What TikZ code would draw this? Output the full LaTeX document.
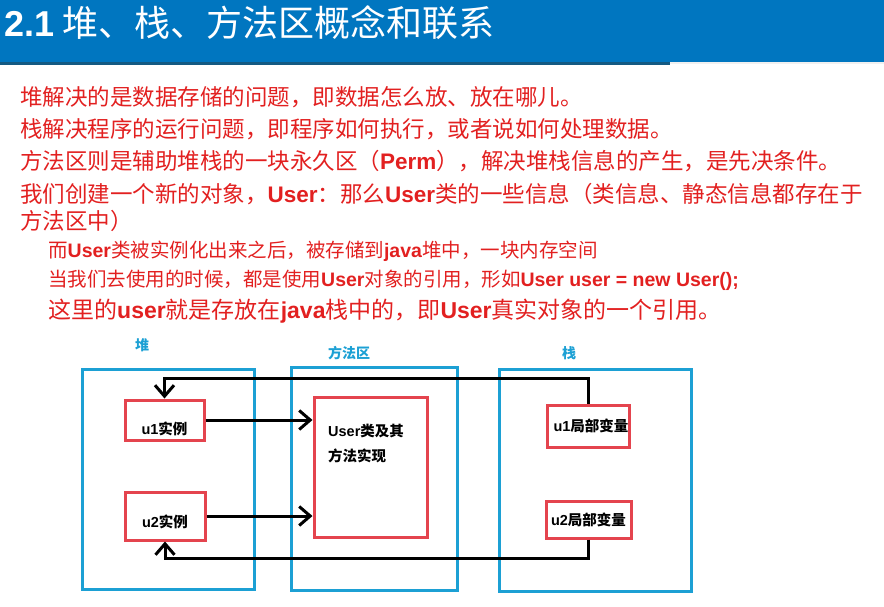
\documentclass[tikz,border=0pt]{standalone}
\usepackage{fontspec}
\usepackage{tikz}
\usetikzlibrary{arrows.meta}
\setmainfont{Liberation Sans}
\newfontfamily\cjk{Noto Sans CJK SC}
\newcommand{\en}[1]{{\rmfamily\bfseries #1}}
\definecolor{headblue}{RGB}{0,118,192}
\definecolor{headdark}{RGB}{20,90,130}
\definecolor{txtred}{RGB}{226,32,32}
\definecolor{boxblue}{RGB}{28,160,212}
\definecolor{boxred}{RGB}{228,68,78}

\begin{document}
\begin{tikzpicture}[x=1pt,y=-1pt,
  line/.style={anchor=west,inner sep=0pt,text=txtred,font=\cjk\fontsize{22.5}{26}\selectfont},
  small/.style={anchor=west,inner sep=0pt,text=txtred,font=\cjk\fontsize{19.5}{24}\selectfont},
  area/.style={draw=boxblue,line width=3pt,inner sep=0pt},
  arealabel/.style={text=boxblue,font=\cjk\bfseries\fontsize{14}{16}\selectfont},
  obj/.style={draw=boxred,line width=3pt,inner sep=0pt,font=\cjk\bfseries\fontsize{14.5}{17}\selectfont},
  arr/.style={line width=3pt,-{Straight Barb[length=11pt,width=19pt,line width=3pt]}}]
  \useasboundingbox (0,0) rectangle (884,607);
  % header
  \fill[headblue] (0,0) rectangle (884,62);
  \fill[headdark] (0,62) rectangle (670,65);
  \fill[gray!12] (670,62) rectangle (884,64);
  \node[anchor=west,inner sep=0pt,text=white,font=\cjk\fontsize{36}{40}\selectfont] (title) at (4,23) {\en{2.1} 堆、栈、方法区概念和联系};
  % text
  \node[line] (l1) at (20,97) {堆解决的是数据存储的问题，即数据怎么放、放在哪儿。};
  \node[line] (l2) at (20,129) {栈解决程序的运行问题，即程序如何执行，或者说如何处理数据。};
  \node[line] (l3) at (20,161) {方法区则是辅助堆栈的一块永久区（\en{Perm}），解决堆栈信息的产生，是先决条件。};
  \node[line] (l4) at (20,194) {我们创建一个新的对象，\en{User}：那么\en{User}类的一些信息（类信息、静态信息都存在于};
  \node[line] (l5) at (20,221) {方法区中）};
  \node[small] (l6) at (48,251) {而\en{User}类被实例化出来之后，被存储到\en{java}堆中，一块内存空间};
  \node[small] (l7) at (48,280) {当我们去使用的时候，都是使用\en{User}对象的引用，形如\en{User user = new User();}};
  \node[line,font=\cjk\fontsize{23}{27}\selectfont] (l8) at (48,311) {这里的\en{user}就是存放在\en{java}栈中的，即\en{User}真实对象的一个引用。};
  % areas
  \node[area,minimum width=172,minimum height=220] (heap) at (168,479) {};
  \node[area,minimum width=166,minimum height=223] (meth) at (374,478.5) {};
  \node[area,minimum width=192,minimum height=222] (stack) at (595,480) {};
  \node[arealabel] (heapl) at (142,345) {堆};
  \node[arealabel] (methl) at (349,353) {方法区};
  \node[arealabel] (stackl) at (569,353) {栈};
  % objects
  \node[obj,minimum width=79,minimum height=40] (i1) at (164.5,420) {\raisebox{-14pt}[0pt][0pt]{\en{u1}实例}};
  \node[obj,minimum width=80,minimum height=48] (i2) at (165,516) {\raisebox{-11pt}[0pt][0pt]{\en{u2}实例}};
  \node[obj,minimum width=113,minimum height=140] (cls) at (370.5,467) {};
  \node[anchor=north west,inner sep=0pt,align=left,font=\cjk\bfseries\fontsize{14.5}{25}\selectfont] (clst) at (328,424) {\en{User}类及其\\方法实现};
  \node[obj,minimum width=82,minimum height=42] (v1) at (588,426) {\hspace*{6pt}\en{u1}局部变量};
  \node[obj,minimum width=85,minimum height=37] (v2) at (588.5,519.5) {\en{u2}局部变量};
  % references
  \coordinate (topway) at (0,378);
  \coordinate (botway) at (0,558);
  \draw[arr] (v1.north) -- (v1.north |- topway) -- (i1.north |- topway) -- (i1.north);
  \draw[arr] (v2.south) -- (v2.south |- botway) -- (i2.south |- botway) -- (i2.south);
  \draw[arr] (i1.east) -- (i1.east -| cls.west);
  \draw[arr] (i2.east) -- (i2.east -| cls.west);
\end{tikzpicture}
\end{document}
